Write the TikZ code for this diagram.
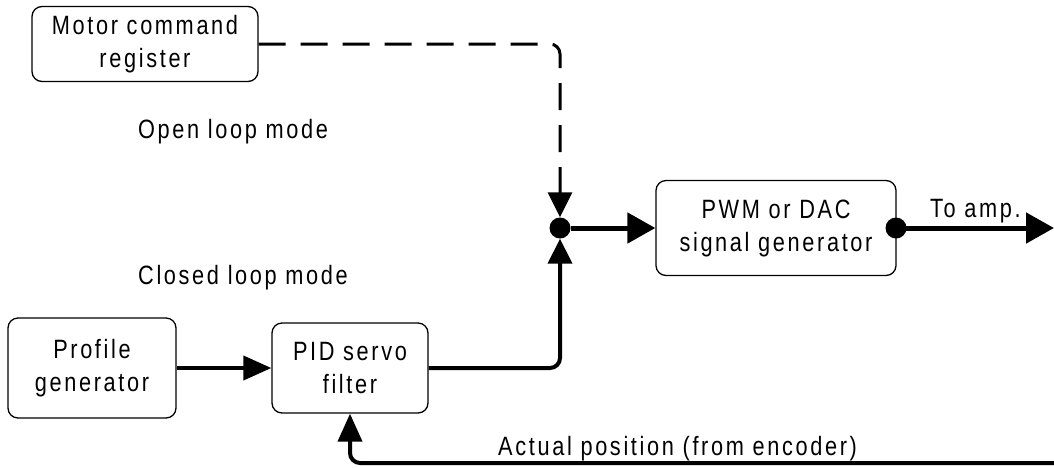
\documentclass[tikz,border=0pt]{standalone}
\usepackage{fontspec}
\setmainfont{Liberation Sans}[FakeStretch=0.82,LetterSpace=10]
\usetikzlibrary{arrows.meta}
\begin{document}
\begin{tikzpicture}[x=1pt,y=-1pt,
  every node/.style={font=\fontsize{26.5}{33}\selectfont},
  block/.style={draw,line width=1.3pt,rounded corners=10pt,align=center,inner sep=0pt},
  label/.style={inner sep=0pt,anchor=base west},
  dot/.style={circle,fill,inner sep=0pt,minimum size=21pt},
  bigtip/.style={-{Triangle[length=28pt,width=30pt]}},
  smalltip/.style={-{Triangle[length=28pt,width=24pt]}},
  jntip/.style={-{Triangle[length=25pt,width=24pt]}},
  mainline/.style={line width=5pt},
  sigline/.style={line width=4pt},
  openline/.style={line width=3pt,dash pattern=on 27pt off 15pt},
]
\useasboundingbox (0,0) rectangle (1054,467);

% blocks
\node[block,minimum width=226pt,minimum height=75pt] (motor) at (145,44) {Motor command\\register};
\node[block,minimum width=240pt,minimum height=95pt] (pwm) at (776,228) {PWM or DAC\\signal generator};
\node[block,minimum width=168pt,minimum height=100pt] (profile) at (92,368) {Profile\\generator};
\node[block,minimum width=156pt,minimum height=90pt] (pid) at (350,368) {PID servo\\filter};

% summing point and output tap
\node[dot] (jn) at (560,228) {};
\node[dot] (out) at (896,228) {};
\coordinate (amp) at (1054,228);
\coordinate (enc) at (1054,463);

% mode labels
\node[label] (open) at (138,138) {Open loop mode};
\node[label] (closed) at (138,284) {Closed loop mode};
\node[label] (toamp) at (930,217) {To amp.};
\node[label] (actual) at (498,455) {Actual position (from encoder)};

% open loop path
\draw[openline,rounded corners=10pt,jntip] (motor.east) -| (jn.north);

% closed loop path
\draw[sigline,smalltip] (profile.east) -- (pid.west);
\draw[sigline,rounded corners=10pt,jntip] (pid.east) -| (jn.south);
\draw[sigline,rounded corners=10pt,smalltip] (enc) -| (pid.south);

% output path
\draw[mainline,bigtip] (jn.east) -- (pwm.west);
\draw[mainline,bigtip] (out.center) -- (amp);
\end{tikzpicture}
\end{document}
